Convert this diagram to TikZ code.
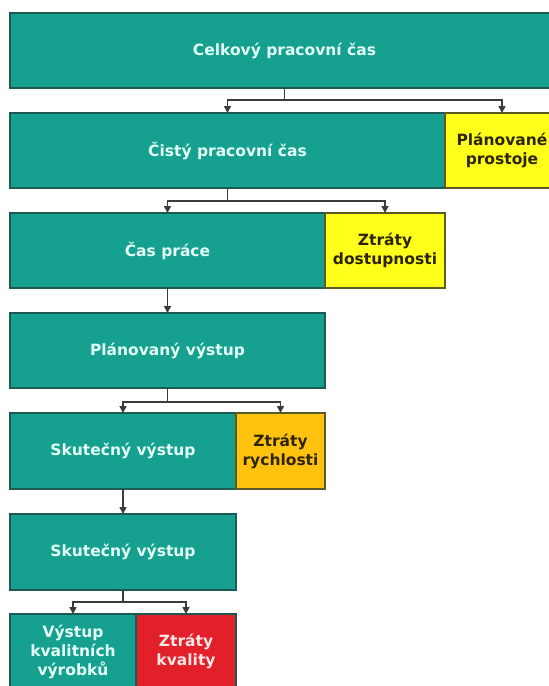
\documentclass[tikz,border=0pt]{standalone}
\usepackage{fontspec}
\setmainfont{DejaVu Sans}
\usetikzlibrary{arrows.meta}
\definecolor{tyrkys}{HTML}{16A08F}
\definecolor{tmavy}{HTML}{1D5A52}
\definecolor{svetly}{HTML}{E4FFF7}
\definecolor{zluta}{HTML}{FFFF1C}
\definecolor{oranzova}{HTML}{FFC20F}
\definecolor{cervena}{HTML}{E2202A}
\definecolor{ruzova}{HTML}{FFE6E6}
\definecolor{olivova}{HTML}{5C5A24}
\definecolor{hneda}{HTML}{2E2500}
\definecolor{sedy}{HTML}{3C3C3C}
\tikzstyle{box} = [rectangle, anchor=north west, outer sep=0pt, inner sep=2pt, minimum height=75pt, line width=1.2pt, text centered, align=center, font=\bfseries\fontsize{15.5}{19}\selectfont]
\tikzstyle{cas} = [box, draw=tmavy, fill=tyrkys, text=svetly]
\tikzstyle{ztrata} = [box, draw=olivova, fill=zluta, text=hneda]
\tikzstyle{ztratarych} = [box, draw=olivova, fill=oranzova, text=hneda]
\tikzstyle{ztratakval} = [box, draw=tmavy, fill=cervena, text=ruzova]
\tikzstyle{line} = [line width=1.6pt, draw=sedy]
\tikzstyle{arrow} = [line width=1.6pt, draw=sedy, -{Triangle[length=7pt,width=7pt]}]

\begin{document}
\begin{tikzpicture}[x=1pt,y=-1pt]
\useasboundingbox (0,0) rectangle (549,686);
\fill[white] (0,0) rectangle (549,686);
\clip (0,0) rectangle (549,686);
% boxes
\node[cas, minimum width=549pt] (celkovy) at (10,13) {Celkový pracovní čas};
\node[cas, minimum width=435pt] (cisty) at (10,113) {Čistý pracovní čas};
\node[ztrata, minimum width=114pt] (prostoje) at (cisty.north east) {Plánované\\prostoje};
\node[cas, minimum width=315pt] (caspr) at (10,213) {Čas práce};
\node[ztrata, minimum width=120pt] (dostup) at (caspr.north east) {Ztráty\\dostupnosti};
\node[cas, minimum width=315pt] (planvyst) at (10,313) {Plánovaný výstup};
\node[cas, minimum width=226pt, minimum height=76pt] (skut) at (10,413) {Skutečný výstup};
\node[ztratarych, minimum width=89pt, minimum height=76pt] (rychlost) at (skut.north east) {Ztráty\\rychlosti};
\node[cas, minimum width=226pt, minimum height=76pt] (skut2) at (10,514) {Skutečný výstup};
\node[cas, minimum width=126pt] (kvalvyr) at (10,614) {Výstup\\kvalitních\\výrobků};
\node[ztratakval, minimum width=100pt] (kvalita) at (kvalvyr.north east) {Ztráty\\kvality};
% connectors
\coordinate (b1) at (celkovy.south |- 0,100);
\coordinate (b2) at (cisty.south |- 0,201);
\coordinate (b3) at (planvyst.south |- 0,402);
\coordinate (b4) at (skut2.south |- 0,602);
\draw[line] (celkovy.south) -- (b1);
\draw[arrow] (b1) -| (cisty.north);
\draw[arrow] (b1) -| (prostoje.north);
\draw[line] (cisty.south) -- (b2);
\draw[arrow] (b2) -| (caspr.north);
\draw[arrow] (b2) -| (dostup.north);
\draw[arrow] (caspr.south) -- (planvyst.north);
\draw[line] (planvyst.south) -- (b3);
\draw[arrow] (b3) -| (skut.north);
\draw[arrow] (b3) -| (rychlost.north);
\draw[arrow] (skut.south) -- (skut2.north);
\draw[line] (skut2.south) -- (b4);
\draw[arrow] (b4) -| (kvalvyr.north);
\draw[arrow] (b4) -| (kvalita.north);
\end{tikzpicture}
\end{document}
